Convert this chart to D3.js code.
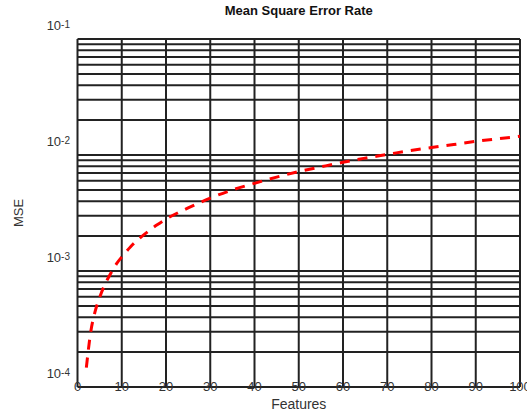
<!DOCTYPE html>
<html><head><meta charset="utf-8">
<script src="https://cdn.jsdelivr.net/npm/d3@7"></script>
<style>
html,body{margin:0;padding:0;background:#fff;}
text{font-family:"Liberation Sans",Arial,Helvetica,sans-serif;}
</style></head>
<body><svg id="c" width="527" height="415"></svg>
<script>
const features = [2,3,4,5,6,7,8,9,10,12,14,16,18,20,25,30,35,40,45,50,55,60,65,70,75,80,85,90,95,100];
const mse = [1.47e-4,3.0e-4,4.5e-4,5.9e-4,7.4e-4,8.8e-4,1.03e-3,1.18e-3,1.32e-3,1.62e-3,1.91e-3,2.2e-3,2.5e-3,2.8e-3,3.5e-3,4.25e-3,5.0e-3,5.7e-3,6.45e-3,7.2e-3,7.9e-3,8.65e-3,9.4e-3,1.01e-2,1.09e-2,1.16e-2,1.23e-2,1.31e-2,1.38e-2,1.45e-2];
const xTicks = [0,10,20,30,40,50,60,70,80,90,100];
const yDecades = [1e-4,1e-3,1e-2,1e-1];
const yExponents = ["-4","-3","-2","-1"];
const title = "Mean Square Error Rate";
const xTitle = "Features";
const yTitle = "MSE";

const svg = d3.select("#c");
const L = 77.5, R = 520, T = 39, B = 387;
const x = d3.scaleLinear().domain([0,100]).range([L,R]);
const y = d3.scaleLog().domain([1e-4,1e-1]).range([B,T]);
const gridColor = "#222";
const textColor = "#333";

// horizontal grid (major + minor log lines)
const yGrid = y.ticks();
svg.append("g").selectAll("line").data(yGrid).join("line")
  .attr("x1", L).attr("x2", R)
  .attr("y1", d => y(d)).attr("y2", d => y(d))
  .attr("stroke", gridColor).attr("stroke-width", 2);

// vertical grid
svg.append("g").selectAll("line").data(xTicks).join("line")
  .attr("x1", d => x(d)).attr("x2", d => x(d))
  .attr("y1", T).attr("y2", B)
  .attr("stroke", gridColor).attr("stroke-width", 2);

// curve
const line = d3.line().x((d,i) => x(features[i])).y(d => y(d)).curve(d3.curveMonotoneX);
svg.append("path").datum(mse).attr("d", line)
  .attr("fill","none").attr("stroke","#ff0000").attr("stroke-width",3)
  .attr("stroke-dasharray","10,8");

// x tick labels (drawn on the axis line)
svg.append("g").selectAll("text").data(xTicks).join("text")
  .attr("x", d => x(d)).attr("y", 391)
  .attr("text-anchor","middle").attr("font-size",13).attr("fill",textColor)
  .text(d => d);

// y tick labels with superscripts
const yl = svg.append("g").selectAll("text").data(yDecades).join("text")
  .attr("x", 70).attr("y", d => y(d) - 9)
  .attr("text-anchor","end").attr("font-size",13).attr("fill",textColor);
yl.append("tspan").text("10");
yl.append("tspan").attr("dy",-2.5).attr("font-size",10).text((d,i) => yExponents[i]);

// titles
svg.append("text").attr("x",(L+R)/2).attr("y",15).attr("text-anchor","middle")
  .attr("font-size",13).attr("font-weight","bold").attr("fill","#111").text(title);
svg.append("text").attr("x",(L+R)/2).attr("y",409).attr("text-anchor","middle")
  .attr("font-size",14).attr("fill",textColor).text(xTitle);
svg.append("text").attr("transform",`translate(23,${(T+B)/2}) rotate(-90)`)
  .attr("text-anchor","middle").attr("font-size",13).attr("fill",textColor).text(yTitle);
</script></body></html>
